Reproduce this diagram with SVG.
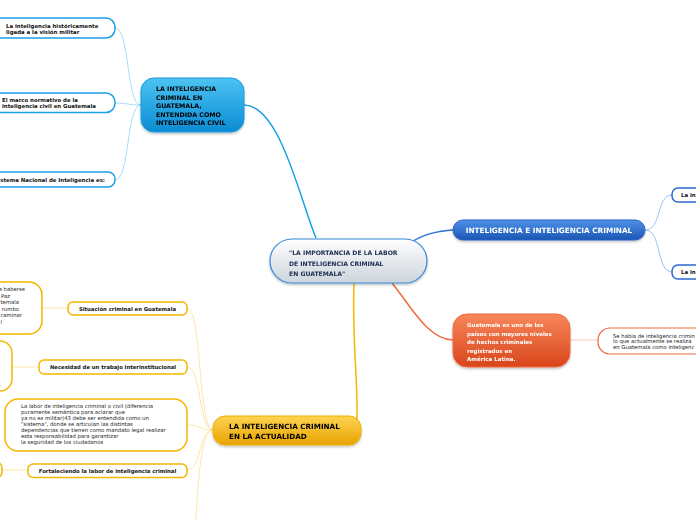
<svg xmlns="http://www.w3.org/2000/svg" width="696" height="520" viewBox="0 0 696 520">
<defs>
<linearGradient id="gC" x1="0" y1="0" x2="0" y2="1"><stop offset="0" stop-color="#ffffff"/><stop offset="1" stop-color="#cdd4dc"/></linearGradient>
<linearGradient id="gCy" x1="0" y1="0" x2="0" y2="1"><stop offset="0" stop-color="#4cc3f2"/><stop offset="1" stop-color="#0b8bd3"/></linearGradient>
<linearGradient id="gB" x1="0" y1="0" x2="0" y2="1"><stop offset="0" stop-color="#4f91e8"/><stop offset="1" stop-color="#1b56b3"/></linearGradient>
<linearGradient id="gO" x1="0" y1="0" x2="0" y2="1"><stop offset="0" stop-color="#f8875c"/><stop offset="1" stop-color="#d8451a"/></linearGradient>
<linearGradient id="gY" x1="0" y1="0" x2="0" y2="1"><stop offset="0" stop-color="#fdd452"/><stop offset="1" stop-color="#e8a300"/></linearGradient>
<filter id="sh" x="-10%" y="-20%" width="120%" height="150%"><feDropShadow dx="0" dy="1.5" stdDeviation="1.2" flood-color="#000" flood-opacity="0.25"/></filter>
</defs>
<style>
.t{font-family:"DejaVu Sans",Verdana,sans-serif;font-weight:bold}
.n{font-family:"DejaVu Sans",Verdana,sans-serif}
.cyb{fill:#fff;stroke:#1aa0e6;stroke-width:1.5}
.blb{fill:#fff;stroke:#2a6ad0;stroke-width:1.5}
.orb{fill:#fff;stroke:#f06a40;stroke-width:1.2}
.yeb{fill:#fff;stroke:#f5b700;stroke-width:1.5}
.c{fill:none}
</style>
<g id="connectors">
<path class="c" d="M244,105 C280,105 300,200 316,238" stroke="#1aa0e6" stroke-width="1.5"/>
<path class="c" d="M141,105 C126,105 130,28 115,28" stroke="#8fd3f2" stroke-width="0.8"/>
<path class="c" d="M141,105 C128,105 128,103 115,103" stroke="#8fd3f2" stroke-width="0.8"/>
<path class="c" d="M141,105 C126,105 130,180 115,180" stroke="#8fd3f2" stroke-width="0.8"/>
<path class="c" d="M410,243 C425,233 440,231 453,230" stroke="#2a70d6" stroke-width="1.5"/>
<path class="c" d="M645,230 C662,230 656,195 672,195" stroke="#80b2ec" stroke-width="0.8"/>
<path class="c" d="M645,230 C662,230 656,272 672,272" stroke="#80b2ec" stroke-width="0.8"/>
<path class="c" d="M392,283 C410,305 428,340 453,340" stroke="#f06a40" stroke-width="1.5"/>
<path class="c" d="M570,340 L598,340" stroke="#f9bba5" stroke-width="0.8"/>
<path class="c" d="M354,283 C352,340 358,380 357,420" stroke="#f5b800" stroke-width="1.5"/>
<path class="c" d="M213,430 C198,430 202,308 187,308" stroke="#fde093" stroke-width="0.8"/>
<path class="c" d="M213,430 C198,430 202,367 187,367" stroke="#fde093" stroke-width="0.8"/>
<path class="c" d="M213,430 C200,430 200,425 187,425" stroke="#fde093" stroke-width="0.8"/>
<path class="c" d="M213,430 C198,430 202,470 187,470" stroke="#fde093" stroke-width="0.8"/>
<path class="c" d="M213,430 C200,430 198,490 195,530" stroke="#fde093" stroke-width="0.8"/>
<path class="c" d="M68,308 L42,308" stroke="#fde093" stroke-width="0.8"/>
<path class="c" d="M39,367 L12,367" stroke="#fde093" stroke-width="0.8"/>
<path class="c" d="M28,470 L2,470" stroke="#fde093" stroke-width="0.8"/>
</g>
<g id="center" filter="url(#sh)">
<rect x="270" y="239" width="157" height="44" rx="22" fill="url(#gC)" stroke="#3a8ad8" stroke-width="1.2"/>
<text class="t" font-size="6.1" fill="#1c2b50"><tspan x="289" y="254.5">"LA IMPORTANCIA DE LA LABOR</tspan><tspan x="289" y="265.5">DE INTELIGENCIA CRIMINAL</tspan><tspan x="289" y="276">EN GUATEMALA"</tspan></text>
</g>
<g id="cyan-main" filter="url(#sh)">
<rect x="141" y="78" width="103" height="54" rx="13" fill="url(#gCy)" stroke="#1a9ae0" stroke-width="1"/>
<text class="t" font-size="6.3" fill="#000"><tspan x="156" y="91">LA INTELIGENCIA</tspan><tspan x="156" y="99.5">CRIMINAL EN</tspan><tspan x="156" y="108">GUATEMALA,</tspan><tspan x="156" y="116.5">ENTENDIDA COMO</tspan><tspan x="156" y="125">INTELIGENCIA CIVIL</tspan></text>
</g>
<g id="cyan-1">
<rect class="cyb" x="-15" y="18" width="130" height="20" rx="9"/>
<text class="t" font-size="5.4" fill="#111"><tspan x="6" y="27.5">La inteligencia históricamente</tspan><tspan x="6" y="34">ligada a la visión militar</tspan></text>
</g>
<g id="cyan-2">
<rect class="cyb" x="-15" y="93" width="130" height="19.5" rx="9"/>
<text class="t" font-size="5.4" fill="#111"><tspan x="2" y="101.5">El marco normativo de la</tspan><tspan x="2" y="107.5">inteligencia civil en Guatemala</tspan></text>
</g>
<g id="cyan-3">
<rect class="cyb" x="-15" y="172" width="130" height="15" rx="7"/>
<text class="t" font-size="5.4" fill="#111" x="105" y="182" text-anchor="end">stema Nacional de Inteligencia es:</text>
</g>
<g id="blue-main" filter="url(#sh)">
<rect x="453" y="220" width="192" height="20" rx="10" fill="url(#gB)" stroke="#2a62c8" stroke-width="1"/>
<text class="t" font-size="7.3" fill="#fff" x="549" y="232.7" text-anchor="middle">INTELIGENCIA E INTELIGENCIA CRIMINAL</text>
</g>
<g id="blue-1">
<rect class="blb" x="672" y="188" width="40" height="14" rx="6"/>
<text class="t" font-size="5.4" fill="#111" x="681" y="197">La in</text>
</g>
<g id="blue-2">
<rect class="blb" x="672" y="265" width="40" height="14" rx="6"/>
<text class="t" font-size="5.4" fill="#111" x="681" y="274">La in</text>
</g>
<g id="orange-main" filter="url(#sh)">
<rect x="453" y="314" width="117" height="53" rx="14" fill="url(#gO)" stroke="#f06a40" stroke-width="1"/>
<text class="t" font-size="5.5" fill="#fff"><tspan x="467" y="327">Guatemala es uno de los</tspan><tspan x="467" y="335.5">países con mayores niveles</tspan><tspan x="467" y="344">de hechos criminales</tspan><tspan x="467" y="352.5">registrados en</tspan><tspan x="467" y="361">América Latina.</tspan></text>
</g>
<g id="orange-1">
<rect class="orb" x="598" y="328" width="120" height="26" rx="12"/>
<text class="n" font-size="5.3" fill="#222"><tspan x="613" y="337.5">Se habla de inteligencia crimin</tspan><tspan x="613" y="343">lo que actualmente se realiza</tspan><tspan x="613" y="348.5">en Guatemala como inteligenc</tspan></text>
</g>
<g id="yellow-main" filter="url(#sh)">
<rect x="213" y="416" width="148" height="29" rx="12" fill="url(#gY)" stroke="#f0b000" stroke-width="1"/>
<text class="t" font-size="7.2" fill="#000"><tspan x="229" y="429">LA INTELIGENCIA CRIMINAL</tspan><tspan x="229" y="438.5">EN LA ACTUALIDAD</tspan></text>
</g>
<g id="yellow-1">
<rect class="yeb" x="68" y="302" width="119" height="13" rx="5"/>
<text class="t" font-size="5.3" fill="#111" x="127.5" y="310.5" text-anchor="middle">Situación criminal en Guatemala</text>
</g>
<g id="yellow-1a">
<rect class="yeb" x="-40" y="282" width="82" height="52" rx="13"/>
<text class="n" font-size="5.3" fill="#222" text-anchor="end"><tspan x="25" y="291">e haberse</tspan><tspan x="10" y="297.5">Paz</tspan><tspan x="19" y="304">temala</tspan><tspan x="19" y="310.5">rumbo</tspan><tspan x="22" y="317">caminar</tspan><tspan x="2" y="323.5">l</tspan></text>
</g>
<g id="yellow-2">
<rect class="yeb" x="39" y="360" width="148" height="14" rx="5"/>
<text class="t" font-size="5.3" fill="#111" x="113" y="369" text-anchor="middle">Necesidad de un trabajo interinstitucional</text>
</g>
<g id="yellow-2a">
<rect class="yeb" x="-40" y="341" width="52" height="50" rx="12"/>
</g>
<g id="yellow-3">
<rect class="yeb" x="5" y="399" width="182" height="52" rx="13"/>
<text class="n" font-size="5.3" fill="#222"><tspan x="21" y="408">La labor de inteligencia criminal o civil (diferencia</tspan><tspan x="21" y="414">puramente semántica para aclarar que</tspan><tspan x="21" y="420">ya no es militar)43 debe ser entendida como un</tspan><tspan x="21" y="426">"sistema", donde se articulan las distintas</tspan><tspan x="21" y="432">dependencias que tienen como mandato legal realizar</tspan><tspan x="21" y="438">esta responsabilidad para garantizar</tspan><tspan x="21" y="444">la seguridad de los ciudadanos</tspan></text>
</g>
<g id="yellow-4">
<rect class="yeb" x="28" y="464" width="159" height="13.5" rx="5"/>
<text class="t" font-size="5.3" fill="#111" x="107.5" y="472.5" text-anchor="middle">Fortaleciendo la labor de inteligencia criminal</text>
</g>
<g id="yellow-4a">
<rect class="yeb" x="-20" y="462" width="22" height="16" rx="6"/>
</g>
</svg>
